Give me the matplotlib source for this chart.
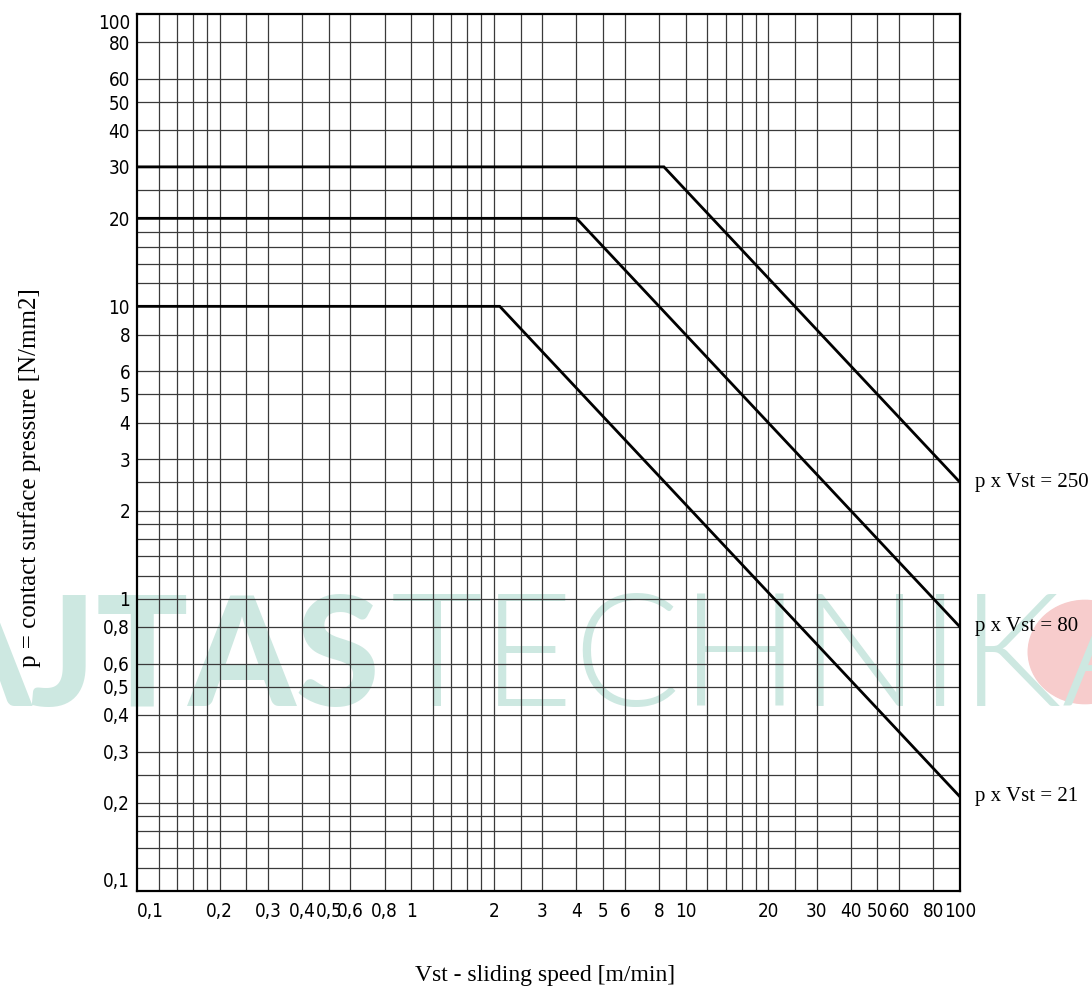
import numpy as np
import matplotlib
matplotlib.use("Agg")
import matplotlib.pyplot as plt
from matplotlib.patches import Circle

# Curves (corner points)
speed_250 = [0.1, 8.33, 100]
press_250 = [30, 30, 2.5]
speed_80 = [0.1, 4, 100]
press_80 = [20, 20, 0.8]
speed_21 = [0.1, 2.1, 100]
press_21 = [10, 10, 0.21]
curve_labels = ["p x Vst = 250", "p x Vst = 80", "p x Vst = 21"]

# Grid lines per decade and tick labels
grid_steps = [1, 1.2, 1.4, 1.6, 1.8, 2, 2.5, 3, 4, 5, 6, 8]
x_ticks = [0.1, 0.2, 0.3, 0.4, 0.5, 0.6, 0.8, 1, 2, 3, 4, 5, 6, 8, 10,
           20, 30, 40, 50, 60, 80, 100]
x_ticklabels = ["0,1", "0,2", "0,3", "0,4", "0,5", "0,6", "0,8", "1", "2", "3",
                "4", "5", "6", "8", "10", "20", "30", "40", "50", "60", "80", "100"]
y_ticks = [0.1, 0.2, 0.3, 0.4, 0.5, 0.6, 0.8, 1, 2, 3, 4, 5, 6, 8, 10,
           20, 30, 40, 50, 60, 80, 100]
y_ticklabels = x_ticklabels

serif_font = ["Liberation Serif", "DejaVu Serif"]

fig = plt.figure(figsize=(10.92, 9.93), dpi=100)
ax = fig.add_axes([137 / 1092, 1 - 891 / 993, 823 / 1092, 877 / 993])
ax.set_zorder(2)
ax.set_facecolor("none")
ax.set_xscale("log")
ax.set_yscale("log")
ax.set_xlim(0.1, 100)
ax.set_ylim(0.1, 100)

# watermark behind the chart
wm_color = "#cde8e1"
fig.text(-0.07, 0.289, "AJTAS", fontsize=110, fontweight="black", color=wm_color,
         family=["Lato", "Open Sans", "DejaVu Sans"], zorder=0)
fig.text(0.358, 0.289, "TECHNIKA", fontsize=114, fontweight=300, color=wm_color,
         family=["Lato", "Open Sans", "DejaVu Sans"], zorder=0)
fig.patches.append(Circle((1085 / 1092, 1 - 652 / 993), 0.052, transform=fig.transFigure,
                          color="#f7cccc", zorder=0))

# grid
decades = [0.1, 1, 10]
grid_vals = [d * s for d in decades for s in grid_steps]
for g in grid_vals[1:]:
    ax.axvline(g, color="#3a3a3a", lw=0.9, zorder=1)
    ax.axhline(g, color="#3a3a3a", lw=0.9, zorder=1)

# curves
for xs, ys in [(speed_250, press_250), (speed_80, press_80), (speed_21, press_21)]:
    ax.plot(xs, ys, color="black", lw=2.0, zorder=3, solid_joinstyle="miter")

for xs, ys, lab in [(speed_250, press_250, curve_labels[0]),
                    (speed_80, press_80, curve_labels[1]),
                    (speed_21, press_21, curve_labels[2])]:
    ax.annotate(lab, (xs[-1], ys[-1]), xytext=(11, 0), textcoords="offset points",
                va="center", ha="left", fontsize=15, family=serif_font,
                annotation_clip=False)

ax.set_xticks(x_ticks)
ax.set_xticklabels(x_ticklabels)
ax.set_yticks(y_ticks)
ax.set_yticklabels(y_ticklabels)
ax.minorticks_off()
ax.tick_params(axis="x", length=0, pad=8, labelsize=13.5)
ax.tick_params(axis="y", length=0, pad=5, labelsize=13.5)
for lab in ax.get_xticklabels() + ax.get_yticklabels():
    lab.set_family("DejaVu Sans")
    lab.set_fontstretch("condensed")
ax.get_xticklabels()[0].set_ha("left")
ax.get_yticklabels()[0].set_va("bottom")
ax.get_yticklabels()[-1].set_va("top")

for sp in ax.spines.values():
    sp.set_linewidth(1.6)
    sp.set_zorder(4)

fig.text(545 / 1092, 1 - 975 / 993, "Vst - sliding speed [m/min]", ha="center",
         va="center", fontsize=17, family=serif_font)
fig.text(30 / 1092, 1 - 478 / 993, "p = contact surface pressure [N/mm2]", ha="center",
         va="center", rotation=90, fontsize=18, family=serif_font)

fig.savefig("out.png", dpi=100)
